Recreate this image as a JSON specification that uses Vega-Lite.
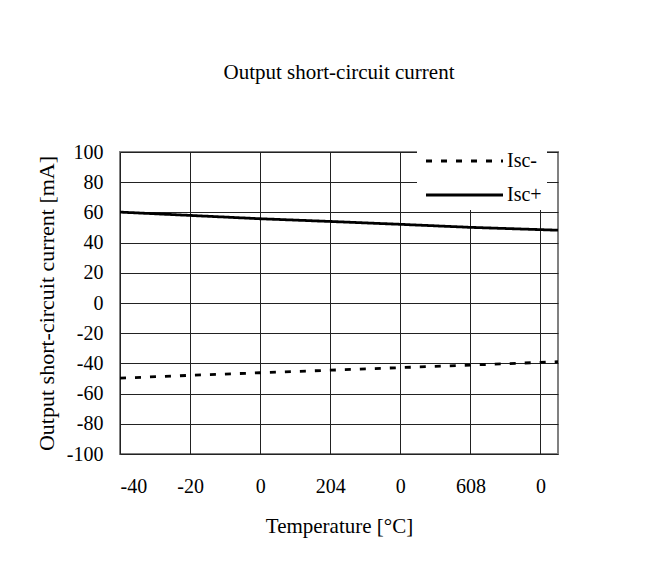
{
  "$schema": "https://vega.github.io/schema/vega-lite/v6.json",
  "width": 438,
  "height": 302,
  "autosize": {"type": "none"},
  "padding": {"left": 120, "top": 152, "right": 93, "bottom": 111},
  "background": "white",
  "title": {
    "text": "Output short-circuit current",
    "font": "Liberation Serif",
    "fontSize": 21,
    "fontWeight": "normal",
    "color": "black",
    "anchor": "middle",
    "baseline": "alphabetic",
    "offset": 42
  },
  "data": {
    "values": [
      {"temp": -40, "current": 60.2, "series": "Isc+"},
      {"temp": -20, "current": 58.0, "series": "Isc+"},
      {"temp": 0, "current": 55.8, "series": "Isc+"},
      {"temp": 20, "current": 54.0, "series": "Isc+"},
      {"temp": 40, "current": 52.1, "series": "Isc+"},
      {"temp": 60, "current": 50.1, "series": "Isc+"},
      {"temp": 85, "current": 48.2, "series": "Isc+"},
      {"temp": -40, "current": -49.8, "series": "Isc-"},
      {"temp": -20, "current": -47.9, "series": "Isc-"},
      {"temp": 0, "current": -46.2, "series": "Isc-"},
      {"temp": 20, "current": -44.5, "series": "Isc-"},
      {"temp": 40, "current": -42.8, "series": "Isc-"},
      {"temp": 60, "current": -41.1, "series": "Isc-"},
      {"temp": 85, "current": -38.9, "series": "Isc-"}
    ]
  },
  "mark": {"type": "line", "strokeWidth": 2.8, "color": "black", "clip": true},
  "encoding": {
    "x": {
      "field": "temp",
      "type": "quantitative",
      "scale": {"domain": [-40, 85], "nice": false, "zero": false},
      "axis": {
        "values": [-40, -20, 0, 20, 40, 60, 80],
        "labelExpr": "datum.value == 20 ? '204' : datum.value == 40 ? '0' : datum.value == 60 ? '608' : datum.value == 80 ? '0' : replace(datum.label, '\u2212', '-')",
        "title": "Temperature [°C]",
        "labelPadding": 22,
        "titlePadding": 19,
        "titleFontSize": 21
      }
    },
    "y": {
      "field": "current",
      "type": "quantitative",
      "scale": {"domain": [-100, 100], "nice": false},
      "axis": {
        "values": [-100, -80, -60, -40, -20, 0, 20, 40, 60, 80, 100],
        "labelExpr": "replace(datum.label, '\u2212', '-')",
        "title": "Output short-circuit current [mA]",
        "labelPadding": 17,
        "titlePadding": 8,
        "titleFontSize": 22
      }
    },
    "strokeDash": {
      "field": "series",
      "type": "nominal",
      "scale": {"domain": ["Isc-", "Isc+"], "range": [[6, 9], [1, 0]]},
      "legend": {
        "title": null,
        "orient": "none",
        "legendX": 297,
        "legendY": -6,
        "fillColor": "white",
        "padding": 5,
        "symbolType": "M-1.2,0H14.2",
        "symbolSize": 100,
        "symbolStrokeWidth": 2.8,
        "symbolStrokeColor": "black",
        "symbolFillColor": "transparent",
        "labelFont": "Liberation Serif",
        "labelFontSize": 20,
        "labelColor": "black",
        "labelOffset": 65,
        "rowPadding": 14
      }
    }
  },
  "config": {
    "view": {"stroke": "#808080", "strokeWidth": 2},
    "axis": {
      "domain": false,
      "ticks": false,
      "grid": true,
      "gridColor": "#222",
      "gridWidth": 1,
      "gridOpacity": 1,
      "labelFont": "Liberation Serif",
      "labelFontSize": 20,
      "labelColor": "black",
      "titleFont": "Liberation Serif",
      "titleFontWeight": "normal",
      "titleColor": "black",
      "labelOverlap": false,
      "labelBound": false
    }
  }
}
